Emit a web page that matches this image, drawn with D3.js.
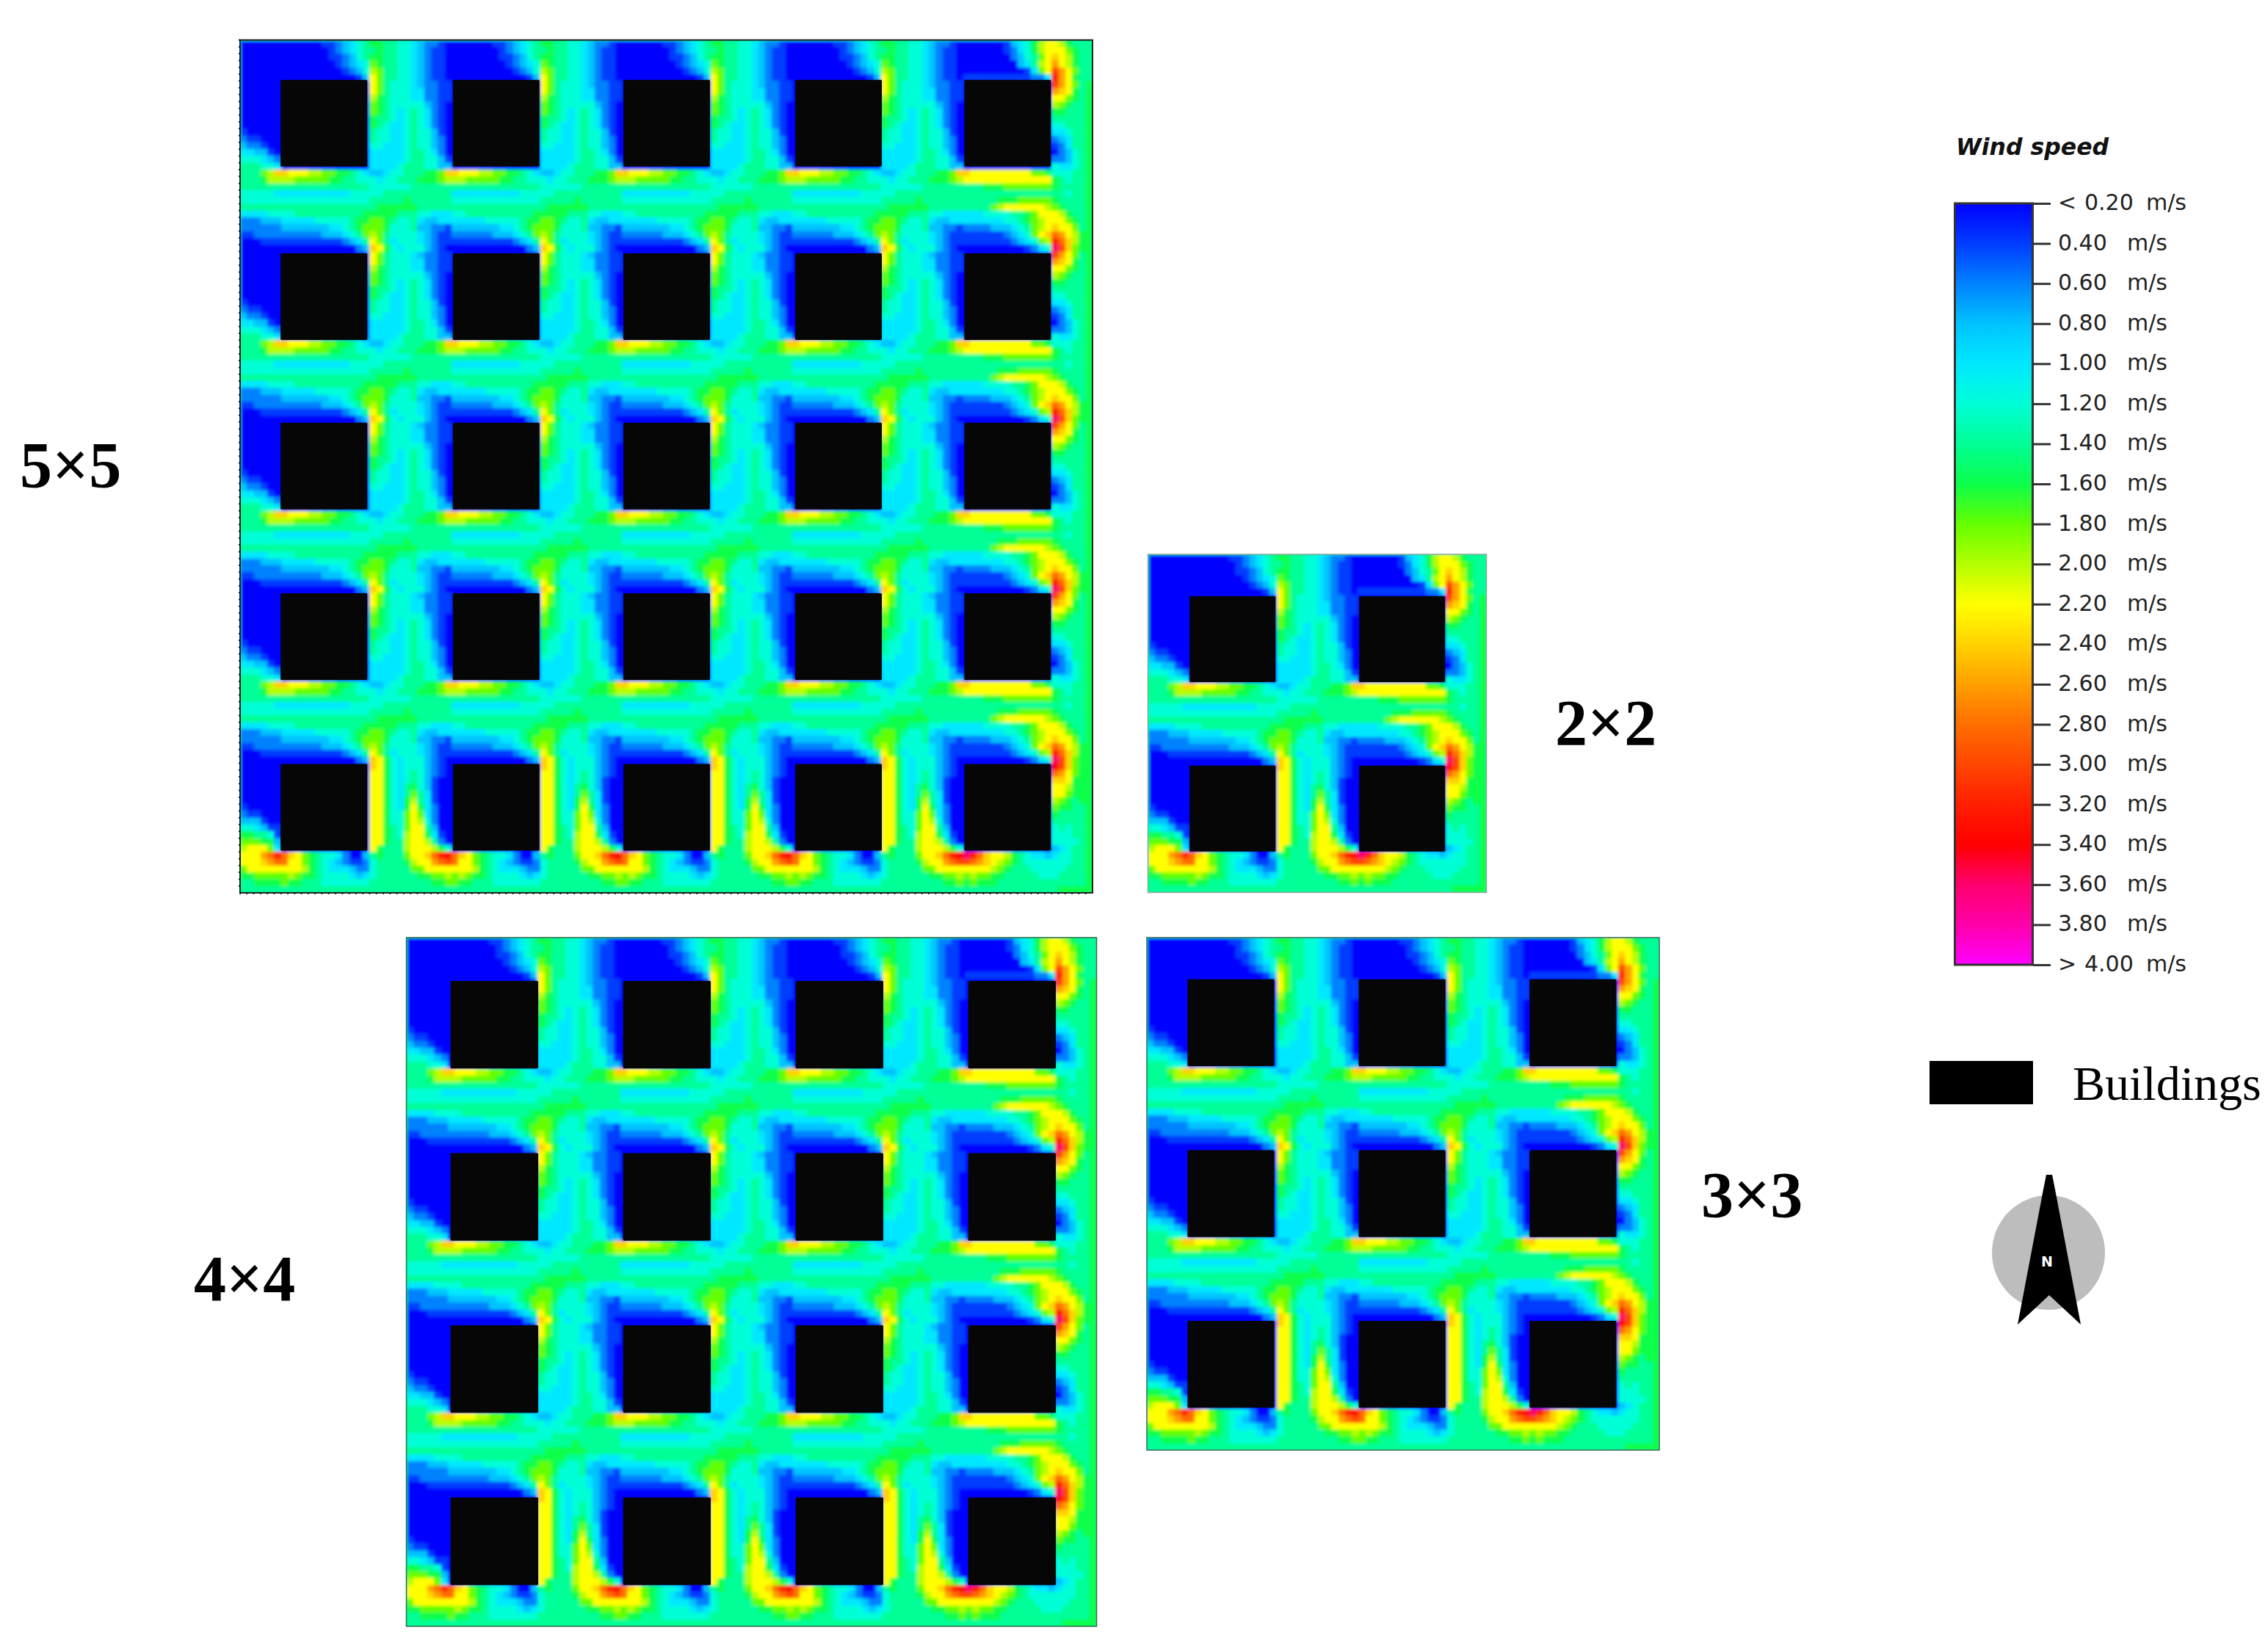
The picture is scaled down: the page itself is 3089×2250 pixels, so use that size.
<!DOCTYPE html>
<html><head><meta charset="utf-8">
<script src="https://cdnjs.cloudflare.com/ajax/libs/d3/7.8.5/d3.min.js"></script>
<style>html,body{margin:0;padding:0;background:#fff}svg{display:block}</style>
</head><body><div id="chart"></div>
<script>
// Wind-speed level per cell, read from the 2×2 panel (base-36 digit k means 0.2·(k+1) m/s)
const windRows = [
"0000000000 0011234567 7665543221 0000000134 579aa97666",
"0000000000 0001234566 7665543211 0000000124 579aaa8766",
"0000000000 0001123567 7665543211 0000000023 568aba9766",
"0000000000 0000123458 7665543211 0000000003 469aca9766",
"0000000000 0000012359 8665543211 0000000000 148aeca866",
"0000000000 000000013a 8665543211 0111111111 1224fca766",
"0000000000 000000000a 8655543221 1000000000 0000eca867",
"0000000000 000000000a 8655544221 1000000000 0000cba767",
"0000000000 0000000009 7655544221 1000000000 0000aa8767",
"0000000000 0000000008 7655555321 0000000000 0000987667",
"0000000000 0000000008 7654565421 0000000000 0000776667",
"0000000000 0000000007 6654565421 0000000000 0000666667",
"0000000000 0000000007 6544565421 0000000000 0000556667",
"1000000000 0000000006 5544565531 0000000000 0000445667",
"2110000000 0000000006 5544565532 0000000000 0000234667",
"3221000000 0000000005 5444565532 0000000000 0000124667",
"4433100000 0000000004 4444566542 0000000000 0000023567",
"5554320000 0000000004 4444566553 1000000000 0000223567",
"6665540000 0000000004 4445666553 3000000000 0000544567",
"66689bbaaa 9988776543 3455666778 bbaaaaaaaa a887555667",
"6667999988 8887766555 4556667778 9aaaaaaaaa aaaa765667",
"6666666666 6666666665 5555566666 6666777888 8888766667",
"5555544444 4444445555 5666666666 6666666666 6666665667",
"5555555555 5555555556 6666766666 6666667778 8888766667",
"6666666666 6666666666 7777776666 6666689aaa aaa9876667",
"4444555566 6666666677 7776665544 4444555566 78aaa97667",
"2223334444 4555556778 8765564334 4444444556 789aaa8767",
"2222223333 3334456788 8755563322 1222233345 689abaa867",
"1122222222 2233345689 8655554321 1111111234 58abdca977",
"0001111111 111112346a 8645554321 1111111123 4589fdb977",
"0000000000 000000023b a754555321 0000000000 1245heb877",
"0000000000 000000000b a754555321 0000000000 0000geb877",
"0000000000 000000000a a754565321 0000000000 0000dca877",
"0000000000 000000000a a754565310 0000000000 0000bba777",
"0000000000 000000000a a754675310 0000000000 0000aa9777",
"0000000000 000000000a a754686410 0000000000 0000aa8777",
"0000000000 000000000a a754796410 0000000000 0000987677",
"1000000000 000000000a a7547a7420 0000000000 0000877667",
"2110000000 000000000a a7558a8420 0000000000 0000766667",
"3331000000 000000000a a7558a9520 0000000000 0000666667",
"5543110000 000000000a a7658aa630 0000000000 0000565667",
"7766510000 000000000a a7659aa741 0000000000 0000555667",
"8887730000 000000000a a7669aa962 0000000000 0000555567",
"9aaa840000 000000000a 76669aaa97 5000000000 0000345667",
"aaacdfdba8 7655420036 76668aabdf ghfdbaa976 5443455667",
"aaabcddaa8 7654321125 666679aacd eedcba9876 5555555667",
"8aaaaaaaa9 7654443225 6666688aaa aaaaa98766 6555556667",
"7788888987 7655554345 6666667788 9898877666 6655566667",
"6677778776 6655555556 6666666677 8787776666 6666666667",
"6666666666 6666666666 6666666666 6666666666 6666677777"
];
// Colour legend: wind-speed stops in m/s and the colour at each
const speedStops = [0.2,0.4,0.6,0.8,1.0,1.2,1.4,1.6,1.8,2.0,2.2,2.4,2.6,2.8,3.0,3.2,3.4,3.6,3.8,4.0];
const speedColors = ["#0000ff","#003cff","#0082ff","#00c3ff","#00e8ff","#00ffd7","#00ff96","#0cff4a","#64ff00","#b4ff00","#ffff00","#ffd200","#ffa000","#ff6e00","#ff4600","#ff1e00","#ff0000","#ff006e","#ff00aa","#ff00ff"];
const legendNumbers = ["0.20","0.40","0.60","0.80","1.00","1.20","1.40","1.60","1.80","2.00","2.20","2.40","2.60","2.80","3.00","3.20","3.40","3.60","3.80","4.00"];
// Panels
const panelNames = ["5×5","4×4","3×3","2×2"];
const panelBuildings = [5,4,3,2];

// ---------- layout ----------
const W=3089,H=2250;
const boxes={ "5×5":{x:327,y:54.5,w:1161,h:1161.5,bxs:[5.94,31.2,56.2,81.4,106.2],bys:[5.84,31.25,56.1,81.1,106.1],stroke:"#222",sw:2,label:[27,663]},
              "4×4":{x:553.5,y:1277,w:940,h:938,bxs:[6.4,31.4,56.4,81.4],bys:[6.3,31.3,56.3,81.3],stroke:"#2a6a4a",sw:1.5,label:[264,1771]},
              "3×3":{x:1562,y:1277,w:698,h:698,bxs:[5.95,31,56],bys:[6.1,31.1,56.1],stroke:"#3a6a5a",sw:1.5,label:[2317,1657]},
              "2×2":{x:1563.5,y:755,w:461,h:460.5,bxs:[6.15,31.2],bys:[6.2,31.25],stroke:"#8aa89a",sw:1.5,label:[2118,1014]} };
const buildingCells=12.7, headCells=13, lastStart=38, gridCells=50;

const grid=windRows.map(r=>r.replace(/ /g,"").split("").map(c=>(parseInt(c,36)+1)*0.2));
const color=d3.scaleLinear().domain(speedStops).range(speedColors).interpolate(d3.interpolateRgb);

// n×n panels: the 2×2 field, with interior strips taken from the milder first-building band
function tileIndex(n){
  let out=d3.range(0,headCells);
  for(let i=0;i<n-2;i++) out=out.concat(d3.range(headCells,31),d3.range(6,headCells));
  return out.concat(d3.range(headCells,lastStart),d3.range(lastStart,gridCells));
}

const svg=d3.select("#chart").append("svg").attr("width",W).attr("height",H).attr("viewBox",[0,0,W,H]);
const defs=svg.append("defs");
defs.append("filter").attr("id","soft").attr("x","-2%").attr("y","-2%").attr("width","104%").attr("height","104%")
  .append("feGaussianBlur").attr("stdDeviation",2);

panelNames.forEach((name,pi)=>{
  const b=boxes[name], n=panelBuildings[pi], idx=tileIndex(n), N=idx.length;
  const x=d3.scaleBand().domain(d3.range(N)).range([b.x,b.x+b.w]);
  const y=d3.scaleBand().domain(d3.range(N)).range([b.y,b.y+b.h]);
  const xc=d3.scaleLinear().domain([0,N]).range([b.x,b.x+b.w]);
  const yc=d3.scaleLinear().domain([0,N]).range([b.y,b.y+b.h]);
  const cells=[]; idx.forEach((rowSrc,r)=>idx.forEach((colSrc,c)=>cells.push({r,c,v:grid[rowSrc][colSrc]})));
  const id="clip"+pi;
  defs.append("clipPath").attr("id",id).append("rect").attr("x",b.x).attr("y",b.y).attr("width",b.w).attr("height",b.h);
  const g=svg.append("g").attr("class","panel").attr("clip-path",`url(#${id})`);
  const hm=g.append("g").attr("filter","url(#soft)");
  hm.append("rect").attr("x",b.x-6).attr("y",b.y-6).attr("width",b.w+12).attr("height",b.h+12).attr("fill","#00ff96");
  hm.selectAll("rect.cell").data(cells).join("rect").attr("class","cell")
    .attr("x",d=>x(d.c)).attr("y",d=>y(d.r))
    .attr("width",x.bandwidth()+0.6).attr("height",y.bandwidth()+0.6)
    .attr("fill",d=>color(d.v)).attr("shape-rendering","crispEdges");
  const blds=[]; d3.range(n).forEach(r=>d3.range(n).forEach(c=>blds.push({r,c})));
  svg.append("g").attr("class","buildings").selectAll("rect").data(blds).join("rect")
    .attr("x",d=>xc(b.bxs[d.c])).attr("y",d=>yc(b.bys[d.r]))
    .attr("width",xc(buildingCells)-xc(0)).attr("height",yc(buildingCells)-yc(0))
    .attr("rx",1.5).attr("fill","#060606");
  svg.append("rect").attr("x",b.x).attr("y",b.y).attr("width",b.w).attr("height",b.h)
    .attr("fill","none").attr("stroke",b.stroke).attr("stroke-width",b.sw);
  if(name==="5×5"){
    const tk=svg.append("g").attr("stroke","#222").attr("stroke-width",2);
    tk.selectAll("line.l").data(d3.range(N)).join("line").attr("class","l")
      .attr("x1",b.x-2).attr("x2",b.x).attr("y1",d=>y(d)).attr("y2",d=>y(d));
    tk.selectAll("line.b").data(d3.range(N)).join("line").attr("class","b")
      .attr("y1",b.y+b.h).attr("y2",b.y+b.h+2).attr("x1",d=>x(d)).attr("x2",d=>x(d));
  }
  svg.append("text").attr("x",b.label[0]).attr("y",b.label[1]).text(name)
    .attr("font-family","'Liberation Serif',serif").attr("font-weight","bold").attr("font-size",88).attr("fill","#000");
});

// ---------- colour legend ----------
const lg=defs.append("linearGradient").attr("id","ramp").attr("x1",0).attr("x2",0).attr("y1",0).attr("y2",1);
speedStops.forEach((s,i)=>lg.append("stop").attr("offset",(s-0.2)/3.8).attr("stop-color",speedColors[i]));
const ly=d3.scaleLinear().domain([0.2,4.0]).range([277,1314]);
svg.append("rect").attr("x",2662.5).attr("y",ly(0.2)).attr("width",106).attr("height",ly(4)-ly(.2))
  .attr("fill","url(#ramp)").attr("stroke","#333").attr("stroke-width",3);
const axis=d3.axisRight(ly).tickValues(speedStops).tickSize(24).tickFormat("");
const ag=svg.append("g").attr("transform","translate(2769,0)").call(axis);
ag.select(".domain").remove();
ag.selectAll("line").attr("stroke","#333").attr("stroke-width",3);
const lf="'DejaVu Sans',sans-serif", lfs=30;
const lt=svg.append("g").attr("font-family",lf).attr("font-size",lfs).attr("fill","#222");
legendNumbers.forEach((t,i)=>{
  const yy=ly(speedStops[i])+9, first=i===0, last=i===legendNumbers.length-1;
  if(first||last){
    lt.append("text").attr("x",2803).attr("y",yy).text(first?"<":">");
    lt.append("text").attr("x",2839).attr("y",yy).text(t);
    lt.append("text").attr("x",2923).attr("y",yy).text("m/s");
  }else{
    lt.append("text").attr("x",2803).attr("y",yy).text(t);
    lt.append("text").attr("x",2897).attr("y",yy).text("m/s");
  }
});
svg.append("text").attr("x",2664).attr("y",211).text("Wind speed")
  .attr("font-family",lf).attr("font-weight","bold").attr("font-style","italic").attr("font-size",31.5).attr("fill","#111");

// ---------- buildings key ----------
svg.append("rect").attr("x",2628).attr("y",1445).attr("width",141).attr("height",59).attr("fill","#000");
svg.append("text").attr("x",2823).attr("y",1498).text("Buildings")
  .attr("font-family","'Liberation Serif',serif").attr("font-size",66).attr("fill","#000");

// ---------- north arrow ----------
svg.append("ellipse").attr("cx",2790).attr("cy",1706).attr("rx",77).attr("ry",78).attr("fill","#bdbdbd");
svg.append("path").attr("d",d3.line()([[2787,1600],[2795,1600],[2799,1620],[2834,1804],[2791,1764],[2748,1804],[2783,1620]])+"Z").attr("fill","#000");
svg.append("text").attr("x",2788).attr("y",1725).attr("text-anchor","middle").text("N")
  .attr("font-family",lf).attr("font-weight","bold").attr("font-size",19).attr("fill","#fff");
</script>
</body></html>
